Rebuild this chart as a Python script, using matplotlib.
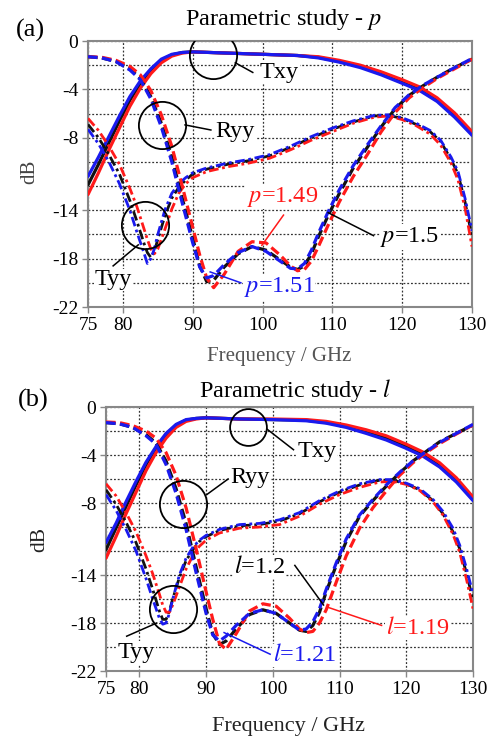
import matplotlib
matplotlib.use("Agg")
import matplotlib.pyplot as plt
import numpy as np

plt.rcParams['font.family'] = ['Liberation Serif', 'DejaVu Serif']
plt.rcParams['mathtext.fontset'] = 'stix'

# frequency grids (GHz)
f_txy = [75, 76.5, 78, 79.5, 81, 82.5, 84, 85.5, 87, 88.5, 90, 95, 100, 105, 108, 111, 114, 117, 120, 122.5, 125, 127.5, 130]
f_ryy = [75, 77, 79, 81, 82.5, 84, 85.5, 87, 88.5, 90, 91, 92, 93, 94.5, 96.5, 98.5, 100.5, 102.5, 104, 105, 106, 107, 108,
         109.5, 111, 113, 115, 117, 119, 121, 123, 125, 127.5, 130]
f_tyy = [75, 76.5, 78, 79.5, 81, 82, 83, 83.5, 84, 84.5, 85, 86, 87, 88, 89, 90, 92, 95, 98, 101, 104, 107, 110, 113, 116,
         118, 120, 122, 124, 125.5, 127, 128, 129, 130]

# (a) parametric study - p   (black p=1.5, red p=1.49, blue p=1.51)
a_txy_k = [-11.9, -10.2, -8.4, -6.6, -4.9, -3.5, -2.4, -1.6, -1.15, -0.95, -0.9, -1.0, -1.1, -1.2, -1.35, -1.7, -2.1, -2.7,
           -3.4, -4.0, -4.9, -6.2, -7.7]
a_txy_r = [-12.7, -10.9, -9.0, -7.2, -5.4, -3.9, -2.7, -1.8, -1.25, -1.0, -0.9, -1.0, -1.1, -1.2, -1.3, -1.6, -2.0, -2.55,
           -3.2, -3.8, -4.7, -5.95, -7.5]
a_txy_b = [-11.2, -9.6, -7.9, -6.2, -4.6, -3.3, -2.3, -1.5, -1.1, -0.95, -0.9, -1.0, -1.1, -1.2, -1.4, -1.75, -2.2, -2.8,
           -3.5, -4.1, -5.0, -6.3, -7.8]

a_ryy_k = [-1.3, -1.4, -1.7, -2.3, -3.1, -4.6, -6.8, -9.6, -13.0, -16.3, -18.6, -19.9, -19.8, -18.7, -17.6, -17.0, -17.3,
           -18.1, -18.7, -18.9, -18.6, -17.6, -16.2, -14.3, -12.6, -10.5, -8.8, -7.1, -5.6, -4.5, -3.7, -3.0, -2.2, -1.5]
a_ryy_r = [-1.3, -1.35, -1.6, -2.1, -2.8, -4.1, -6.1, -8.7, -12.0, -15.4, -17.7, -19.6, -20.4, -19.3, -17.4, -16.6, -16.7,
           -17.7, -18.6, -19.0, -18.9, -18.2, -17.0, -15.1, -13.3, -11.2, -9.4, -7.5, -5.9, -4.7, -3.85, -3.1, -2.3, -1.5]
a_ryy_b = [-1.3, -1.4, -1.7, -2.4, -3.2, -4.8, -7.1, -10.0, -13.4, -16.7, -18.7, -19.6, -19.4, -18.5, -17.5, -17.0, -17.4,
           -18.2, -18.8, -18.85, -18.4, -17.3, -15.9, -14.0, -12.3, -10.3, -8.6, -7.0, -5.5, -4.45, -3.65, -3.0, -2.2, -1.45]

a_tyy_k = [-6.9, -8.0, -9.4, -11.0, -13.2, -14.9, -16.7, -17.5, -17.9, -17.4, -16.4, -14.5, -13.0, -12.1, -11.5, -11.0,
           -10.6, -10.2, -9.9, -9.5, -8.8, -8.0, -7.3, -6.7, -6.2, -6.15, -6.4, -6.9, -7.5, -8.3, -9.8, -11.0, -13.3, -16.2]
a_tyy_r = [-6.4, -7.4, -8.7, -10.2, -12.2, -13.7, -15.5, -16.4, -17.2, -17.6, -17.2, -15.6, -13.9, -12.6, -11.8, -11.3,
           -10.8, -10.4, -10.1, -9.7, -9.0, -8.2, -7.5, -6.8, -6.3, -6.2, -6.5, -7.0, -7.7, -8.6, -10.1, -11.5, -13.8, -17.0]
a_tyy_b = [-7.3, -8.5, -10.0, -11.8, -14.0, -15.8, -17.5, -18.4, -18.0, -17.2, -16.0, -14.0, -12.6, -11.8, -11.3, -10.9,
           -10.5, -10.1, -9.8, -9.4, -8.7, -7.9, -7.2, -6.6, -6.15, -6.1, -6.35, -6.8, -7.4, -8.2, -9.6, -10.8, -13.0, -15.7]

# (b) parametric study - l   (black l=1.2, red l=1.19, blue l=1.21)
b_txy_k = [-11.9, -10.1, -8.3, -6.5, -4.8, -3.4, -2.3, -1.5, -1.1, -0.95, -0.9, -1.0, -1.05, -1.1, -1.3, -1.6, -2.1, -2.6,
           -3.3, -4.0, -4.9, -6.1, -7.7]
b_txy_r = [-12.6, -10.8, -8.9, -7.1, -5.3, -3.8, -2.6, -1.7, -1.2, -1.0, -0.9, -1.0, -1.0, -1.05, -1.2, -1.5, -1.9, -2.4,
           -3.1, -3.75, -4.65, -5.9, -7.5]
b_txy_b = [-11.3, -9.7, -7.9, -6.2, -4.6, -3.3, -2.2, -1.45, -1.05, -0.95, -0.9, -1.0, -1.05, -1.15, -1.35, -1.7, -2.2,
           -2.75, -3.45, -4.1, -5.0, -6.25, -7.8]

b_ryy_k = [-1.3, -1.4, -1.7, -2.3, -3.0, -4.5, -6.8, -9.7, -13.3, -16.8, -18.9, -19.8, -19.5, -18.5, -17.3, -16.9, -17.2,
           -18.0, -18.6, -18.7, -18.2, -17.1, -15.4, -13.2, -11.2, -9.1, -7.8, -6.6, -5.5, -4.5, -3.7, -2.9, -2.2, -1.5]
b_ryy_r = [-1.25, -1.3, -1.55, -2.0, -2.6, -3.8, -5.7, -8.4, -11.8, -15.4, -17.7, -19.7, -20.2, -18.9, -17.0, -16.4, -16.6,
           -17.6, -18.5, -18.8, -18.7, -18.0, -16.9, -14.6, -12.4, -10.1, -8.4, -7.0, -5.7, -4.65, -3.8, -3.05, -2.25, -1.5]
b_ryy_b = [-1.3, -1.4, -1.7, -2.4, -3.1, -4.8, -7.2, -10.2, -13.8, -17.2, -19.0, -19.5, -19.1, -18.2, -17.2, -16.9, -17.2,
           -18.0, -18.6, -18.5, -17.9, -16.8, -15.2, -13.0, -11.0, -9.0, -7.7, -6.5, -5.45, -4.5, -3.7, -2.95, -2.2, -1.45]

b_tyy_k = [-6.9, -8.1, -9.6, -11.3, -13.5, -15.2, -17.0, -17.7, -17.7, -17.0, -16.0, -14.2, -12.8, -11.9, -11.2, -10.8,
           -10.3, -9.9, -9.8, -9.5, -8.9, -7.9, -7.1, -6.5, -6.1, -6.1, -6.4, -6.9, -7.8, -8.9, -10.4, -11.8, -13.8, -16.1]
b_tyy_r = [-6.4, -7.4, -8.8, -10.4, -12.4, -13.9, -15.6, -16.5, -17.1, -17.1, -16.5, -15.0, -13.5, -12.4, -11.6, -11.1,
           -10.5, -10.1, -10.0, -9.8, -9.1, -8.1, -7.3, -6.7, -6.25, -6.2, -6.45, -6.95, -7.9, -9.0, -10.6, -12.1, -14.3, -16.8]
b_tyy_b = [-7.3, -8.6, -10.2, -12.0, -14.3, -16.0, -17.6, -18.1, -18.0, -17.2, -16.0, -14.0, -12.6, -11.7, -11.1, -10.7,
           -10.2, -9.8, -9.7, -9.4, -8.8, -7.8, -7.0, -6.4, -6.05, -6.05, -6.35, -6.8, -7.7, -8.7, -10.1, -11.5, -13.4, -15.6]

x_ticks = [75, 80, 90, 100, 110, 120, 130]
y_ticks = [0, -4, -8, -14, -18, -22]

BLACK = '#111111'
RED = '#ff1a1a'
BLUE = '#1a1aee'


def draw_panel(ax, txy, ryy, tyy):
    for vals, c in zip(txy, [BLACK, RED, BLUE]):
        ax.plot(f_txy, vals, color=c, lw=2.3, solid_capstyle='round', zorder=3)
    for vals, c in zip(tyy, [BLACK, RED, BLUE]):
        ax.plot(f_tyy, vals, color=c, lw=2.0, linestyle=(0, (3.5, 1.3, 1, 1.3)), zorder=3)
    for vals, c in zip(ryy, [BLACK, RED, BLUE]):
        ax.plot(f_ryy, vals, color=c, lw=2.3, linestyle=(0, (3, 1.4)), zorder=3)

    ax.set_xlim(75, 130)
    ax.set_ylim(-22, 0)
    ax.set_xticks(x_ticks)
    ax.set_yticks(y_ticks)
    ax.set_yticklabels([str(v) for v in y_ticks])
    ax.set_yticks(np.arange(-20, 0, 2), minor=True)
    ax.tick_params(which='both', direction='out', length=4, width=1, color='#888888', labelsize=14, pad=3)
    ax.tick_params(which='minor', length=0)
    ax.grid(which='both', color='#333333', lw=0.9, linestyle=(0, (1.5, 1.5)), zorder=1)
    for s in ax.spines.values():
        s.set_color('#888888')
        s.set_linewidth(1.5)


def circle(ax, x, y, size):
    ax.plot([x], [y], marker='o', ms=size, mfc='none', mec='black', mew=1.3, zorder=6)


def label(ax, x, y, text, color, line):
    (x0, y0), (x1, y1) = line
    ax.plot([x0, x1], [y0, y1], color=color, lw=1.1, zorder=6)
    ax.text(x, y, text, color=color, fontsize=17.5, ha='center', va='center', zorder=7,
            bbox=dict(fc='white', ec='none', pad=0.5))


fig = plt.figure(figsize=(4.96, 7.37), dpi=100)
W, H = 496, 737

# ---- panel (a)
ax1 = fig.add_axes([88 / W, 1 - 307 / H, 384 / W, 266 / H])
draw_panel(ax1, [a_txy_k, a_txy_r, a_txy_b], [a_ryy_k, a_ryy_r, a_ryy_b], [a_tyy_k, a_tyy_r, a_tyy_b])
circle(ax1, 92.9, -1.16, 34)
circle(ax1, 85.6, -6.94, 34)
circle(ax1, 83.1, -15.2, 34)
label(ax1, 102.4, -2.6, 'Txy', 'black', [(96.1, -1.8), (98.6, -2.6)])
label(ax1, 96.1, -7.5, 'Ryy', 'black', [(88.9, -6.94), (92.6, -7.36)])
label(ax1, 78.6, -19.75, 'Tyy', 'black', [(82.2, -16.86), (78.6, -18.6)])
label(ax1, 102.9, -12.87, '$p$=1.49', RED, [(103.0, -14.4), (99.9, -16.9)])
label(ax1, 121.1, -16.2, '$p$=1.5', 'black', [(115.9, -16.1), (109.4, -14.2)])
label(ax1, 102.4, -20.36, '$p$=1.51', BLUE, [(96.9, -20.0), (92.5, -19.1)])

fig.text(284 / W, 1 - 20 / H, 'Parametric study - $p$', fontsize=17.5, ha='center', va='center')
fig.text(30 / W, 1 - 30 / H, '(a)', fontsize=19, ha='center', va='center')
fig.text(30 / W, 1 - 172 / H, 'dB', fontsize=15, rotation=90, ha='center', va='center', color='#444444')
fig.text(279 / W, 1 - 357 / H, 'Frequency / GHz', fontsize=15, ha='center', va='center', color='#555555')

# ---- panel (b)
ax2 = fig.add_axes([106 / W, 1 - 671 / H, 367 / W, 264 / H])
draw_panel(ax2, [b_txy_k, b_txy_r, b_txy_b], [b_ryy_k, b_ryy_r, b_ryy_b], [b_tyy_k, b_tyy_r, b_tyy_b])
circle(ax2, 96.3, -1.67, 26.5)
circle(ax2, 86.5, -8.08, 34)
circle(ax2, 85.0, -16.83, 34)
label(ax2, 106.6, -3.7, 'Txy', 'black', [(99.1, -1.83), (103.1, -3.56)])
label(ax2, 96.6, -5.9, 'Ryy', 'black', [(90.1, -7.3), (93.3, -6.0)])
label(ax2, 79.6, -20.45, 'Tyy', 'black', [(82.6, -18.0), (78.1, -19.1)])
label(ax2, 98.0, -13.3, '$l$=1.2', 'black', [(103.3, -13.2), (107.6, -16.5)])
label(ax2, 121.7, -18.4, '$l$=1.19', RED, [(116.3, -18.2), (108.3, -16.7)])
label(ax2, 104.8, -20.7, '$l$=1.21', BLUE, [(99.6, -20.6), (92.7, -18.8)])

fig.text(295 / W, 1 - 390 / H, 'Parametric study - $l$', fontsize=17.5, ha='center', va='center')
fig.text(33 / W, 1 - 400 / H, '(b)', fontsize=19, ha='center', va='center')
fig.text(40 / W, 1 - 539 / H, 'dB', fontsize=15.5, rotation=90, ha='center', va='center', color='#222222')
fig.text(288 / W, 1 - 726 / H, 'Frequency / GHz', fontsize=16, ha='center', va='center', color='#222222')

fig.savefig('out.png', dpi=100)
